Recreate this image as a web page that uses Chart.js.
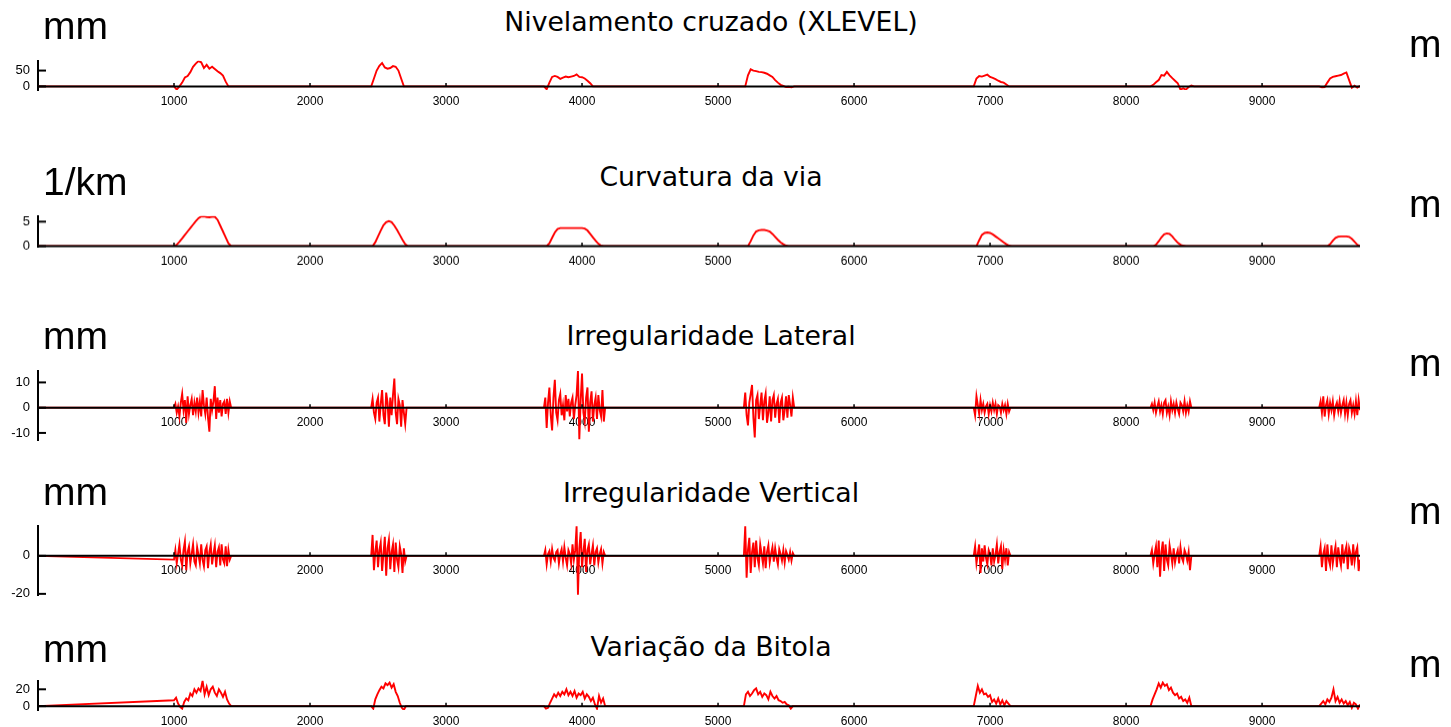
<!DOCTYPE html>
<html>
<head>
<meta charset="utf-8">
<script src="https://cdn.jsdelivr.net/npm/chart.js@4.4.1/dist/chart.umd.min.js"></script>
<style>
  html, body { margin: 0; padding: 0; background: #fff; }
  #fig { position: relative; width: 1451px; height: 727px; overflow: hidden; background: #fff; }
  #fig canvas { position: absolute; left: 0; }
  .title { position: absolute; font-family: "DejaVu Sans", sans-serif; font-size: 26.7px; line-height: 26.7px;
           white-space: nowrap; transform: translateX(-50%); color: #000; }
  .unit { position: absolute; font-family: "Liberation Sans", Arial, sans-serif; font-size: 39px; line-height: 39px;
          white-space: nowrap; color: #000; }
</style>
</head>
<body>
<div id="fig"></div>
<script>
// ---- distance axis (m) ----
const kmTicks = [1000, 2000, 3000, 4000, 5000, 6000, 7000, 8000, 9000];
const trackEnd = 9720;

// ---- Nivelamento cruzado (XLEVEL), mm, sampled every 20 m inside each curve ----
const xlevelOrigin = 0;
const xlevelStep = 20;
const xlevelStart = [1000, 2450, 3720, 5200, 6880, 8180, 9420];
const xlevelSeg1 = [0, -10, 0, 12, 28, 33, 45, 62, 72, 80, 76, 58, 68, 56, 62, 55, 48, 42, 34, 15, 0];
const xlevelSeg2 = [0, 25, 50, 65, 74, 60, 56, 58, 64, 62, 50, 25, 0];
const xlevelSeg3 = [0, -9, 12, 30, 33, 30, 24, 28, 31, 29, 31, 33, 38, 30, 29, 25, 18, 10, 0];
const xlevelSeg4 = [0, 35, 54, 50, 48, 46, 45, 43, 40, 35, 30, 20, 12, 5, 2, -2, -1, -3, 0];
const xlevelSeg5 = [0, 25, 33, 31, 34, 37, 30, 27, 23, 18, 14, 12, 6, 0];
const xlevelSeg6 = [0, 5, 13, 20, 36, 34, 46, 35, 26, 18, 10, -10, -6, -10, -2, 3, 0];
const xlevelSeg7 = [0, -3, -2, 12, 25, 30, 32, 34, 36, 40, 44, 20, -4, 2, -4, 2];
const xlevelTicks = [0, 50];

// ---- Curvatura da via, 1/km, every 20 m ----
const curvOrigin = 0;
const curvStep = 20;
const curvStart = [1000, 2460, 3740, 5220, 6900, 8200, 9480];
const curvSeg1 = [0, 0.3, 0.9, 1.6, 2.3, 3.0, 3.7, 4.4, 5.1, 5.7, 6.05, 6.1, 5.95, 5.9, 6.0, 6.0, 5.4, 4.2, 3.0, 1.8, 0.6, 0];
const curvSeg2 = [0, 0.8, 2.0, 3.2, 4.3, 4.9, 5.1, 4.9, 4.2, 3.3, 2.3, 1.3, 0.4, 0];
const curvSeg3 = [0, 0.6, 1.7, 2.8, 3.5, 3.7, 3.7, 3.7, 3.7, 3.7, 3.7, 3.7, 3.7, 3.7, 3.6, 3.2, 2.5, 1.8, 1.1, 0.5, 0.1, 0];
const curvSeg4 = [0, 1.0, 2.2, 3.0, 3.25, 3.3, 3.3, 3.2, 3.0, 2.5, 1.9, 1.3, 0.8, 0.4, 0.1, 0];
const curvSeg5 = [0, 1.2, 2.3, 2.7, 2.8, 2.7, 2.4, 2.0, 1.6, 1.2, 0.8, 0.4, 0.1, 0];
const curvSeg6 = [0, 0.3, 1.0, 1.8, 2.4, 2.6, 2.5, 2.0, 1.3, 0.7, 0.3, 0.1, 0];
const curvSeg7 = [0, 0.4, 1.1, 1.7, 1.95, 2.0, 2.0, 2.0, 1.9, 1.5, 0.9, 0.3, 0];
const curvTicks = [0, 5];

// ---- Irregularidade Lateral, mm, every 10 m ----
const latOrigin = 0;
const latStep = 10;
const latStart = [1000, 2450, 3720, 5190, 6880, 8180, 9420];
const latSeg1 = [0, 1.5, -2, 0.5, -3.5, 2, 5.5, -1, 3, -6, 4.5, -2.5, 1, 3.5, -3, 2, -1.5, 4, -2, 2.5, -3.5,
                 7, 1, -2.5, 4, -4, -9.5, 3.5, -1, 2.5, 8.5, -4.5, 4, -2, 3, -3.5, 1.5, 2.5, -2.5, 3.5, -2, 2.5, 0];
const latSeg2 = [0, 3.5, -2, -4.5, 2, 4, -5.5, 1.5, 7, -3, -6.5, 6, 2, -7.5, 4, -3, 5, 11.5, -2, -6.5, 3.5,
                 1, -7.5, 3, -2, -6.5, 0];
const latSeg3 = [0, 4, -8, 2, 8, -3, -9, 4, 11, -2, -5, 3, 5.5, -3, 1, -5, 5, -1.5, 3.5, -3.5, 2, 4, -4.5,
                 1, 5, 14.5, -12.5, 3, 13.5, -2, -5.5, 4, 8, -9.5, 2, 6.5, -5.5, 1, 4, -4.5, 5, -1, -3.5, 7, -5.5, 0];
const latSeg4 = [0, 6, -3, -7, 2, 5.5, 9, -4, -11.8, 3, 5, -4.5, 1, 6, -5, 2.5, 5.5, -6, -2, 4.5, -5.5,
                 3, 5, -4, 1.5, 3.5, -6, 2, 4, -5, -1, 4.5, -4, 5, 1, -3.5, 4, 0];
const latSeg5 = [0, -3, 4.5, 1, -2.5, 3, -1, 1.5, -2, 0.5, 1.5, -2.5, 1, -1.5, 2, -1, 1.5, -2.5, 1, 0.5,
                 -2, 1.5, -1, 1, -2.5, 1.5, -1.5, 0];
const latSeg6 = [0, 1.5, -1, 2, -2, 0.5, 2.5, -1.5, 1, -2.5, 2, 3, -2, 0.5, -3, 2.5, -1, 1.5, -2, 2, -0.5,
                 -2.5, 2, 1, -1.5, 2.5, -2, 1, -1.5, 2.5, 0];
const latSeg7 = [0, 2.5, -2, 4.5, -3.5, 1, 3, -2.5, 2, -1, 2.5, -3, 0.5, 2, -1.5, 2.5, -2, 1, 3, -2.5, 2,
                 -3, 1.5, 3, -2, 1, -2.5, 2.5, -3, 3, -1];
const latTicks = [-10, 0, 10];

// ---- Irregularidade Vertical, mm, every 10 m ----
const vertOrigin = 0;
const vertStep = 10;
const vertStart = [1000, 2450, 3720, 5190, 6880, 8180, 9420];
const vertSeg1 = [-2, 3, -4, 1, 6, -2, -5, 3, 7.5, -7.5, 2, 5, -4, 1, 6, -3, -5, 4.5, 0.5, -4, 6, -2,
                  -5.5, 3, 5, -6.5, 2, 6, -4.5, 1, 5.5, -6, 2, 4.5, -5, 6, -2, -4, 5, -5.5, 3, -2, 0];
const vertSeg2 = [0, 11, -7.5, 2, 8, -6, 3, 7, -8, 1, 10, -10.5, 4, 8.5, -7, 2, 6, -8.5, 7, -2, -6, 5, 1,
                  -9, 4, -3, 0];
const vertSeg3 = [0, 3, -4.5, 1, 2.5, -3, 3.5, -1, -2.5, 2, 3, -4, 1, 3.5, -3, 4.5, -1, -5, 3, 1, -4, 6,
                  -2, 3, 15.5, -20.5, 4, 12.5, -6, 2, 9, -8.5, 3, 6, -4.5, 1, 5.5, -5, 2, 4, -3.5, 1, 3.5, -4, 2, 0];
const vertSeg4 = [0, 15.5, -11.5, 3, 9.5, -9, 2, 7, -6, 8, -1, -5, 6, 1, -4, 5, -6.5, 2, 5.5, -3.5, 1,
                  4.5, -3, 4, -1, -4.5, 3.5, 1, -2.5, 3, -3.5, 2.5, 0.5, -2, 2, -2.5, 1.5, 0];
const vertSeg5 = [0, 5, -4, 1, 6, -9, 4, -3, 5.5, -1, -4.5, 3, 1, -5, 4, -3, 0.5, 6, -4, 2, 5, -7, 3, -2,
                  4, -5, 2, 0];
const vertSeg6 = [0, 3, -4, 1, 5, -6, 8, -11, 2, 7.5, -8, 6, -2, -5, 5.5, 1, -4, 4, -3.5, 0.5, 3, -4, 4.5,
                  -1, -3, 3, 1, -2.5, 2, -7.5, 0];
const vertSeg7 = [0, 5, -6, 1, 4, -8, 6, -2, -5, 5.5, -4, 1, 5, -6, 4.5, -1, -5, 6, -4, 2, 5, -7, 4, 1,
                  -5, 6, -3, 2, 4.5, -8, -2];
const vertTicks = [-20, 0];

// ---- Variação da Bitola, mm, every 15 m ----
const gaugeOrigin = 0;
const gaugeStep = 15;
const gaugeStart = [1000, 2450, 3720, 5190, 6880, 8180, 9420];
const gaugeSeg1 = [7, 10, 3, -1, -3, 5, 9, 7, 15, 12, 20, 16, 21, 18, 30, 14, 23, 13, 20, 23, 16, 12, 20, 16, 11, 17, 8, 3, 0];
const gaugeSeg2 = [0, -3, 8, 14, 19, 23, 21, 27, 25, 28, 22, 26, 17, 12, 4, -2, -4.5, 0];
const gaugeSeg3 = [0, -3, -2, 4, 9, 14, 11, 16, 12, 17, 14, 20, 13, 17, 12, 18, 10, 15, 13, 17, 9, 14, 11, 6, 10, 2, -3, 12, 4, 9, 0];
const gaugeSeg4 = [0, 14, 17, 12, 15, 19, 21, 14, 17, 11, 15, 13, 8, 17, 12, 9, 12, 7, 6, 4, 5, 2, 1, -3, 0, 0];
const gaugeSeg5 = [0, 12, 24, 16, 20, 14, 15, 11, 13, 5, 8, 3, 9, 2, 7, 1, 6, 3, 0];
const gaugeSeg6 = [0, 8, 14, 20, 27, 22, 28, 24, 26, 19, 22, 16, 13, 15, 9, 11, 6, 8, 4, 10, 0];
const gaugeSeg7 = [0, 3, 6, 2, 8, 5, 10, 20, 6, 11, 4, 8, 3, 6, 1, 5, -2, 4, 2, -3, 2];
const gaugeTicks = [0, 20];

// Builds the {x, y} series: the reading at the start of the track, then each curve's samples.
function buildSeries(origin, starts, step, segments) {
  const pts = [{ x: 0, y: origin }];
  segments.forEach((vals, i) => {
    vals.forEach((v, j) => pts.push({ x: starts[i] + j * step, y: v }));
  });
  return pts;
}

// Panel geometry on the page (pixels) and axis limits.
const panels = [
  { title: 'Nivelamento cruzado (XLEVEL)', unit: 'mm',
    data: buildSeries(xlevelOrigin, xlevelStart, xlevelStep, [xlevelSeg1, xlevelSeg2, xlevelSeg3, xlevelSeg4, xlevelSeg5, xlevelSeg6, xlevelSeg7]),
    ticks: xlevelTicks, yMin: -11.3, yMax: 80.8,
    top: 55, bottom: 90, titleBase: 32, unitBase: 39.3, rightBase: 57 },
  { title: 'Curvatura da via', unit: '1/km',
    data: buildSeries(curvOrigin, curvStart, curvStep, [curvSeg1, curvSeg2, curvSeg3, curvSeg4, curvSeg5, curvSeg6, curvSeg7]),
    ticks: curvTicks, yMin: -0.1, yMax: 6.15,
    top: 210, bottom: 246.5, titleBase: 187, unitBase: 195, rightBase: 217 },
  { title: 'Irregularidade Lateral', unit: 'mm',
    data: buildSeries(latOrigin, latStart, latStep, [latSeg1, latSeg2, latSeg3, latSeg4, latSeg5, latSeg6, latSeg7]),
    ticks: latTicks, yMin: -12.8, yMax: 14.6,
    top: 365, bottom: 440, titleBase: 346, unitBase: 349.3, rightBase: 376 },
  { title: 'Irregularidade Vertical', unit: 'mm',
    data: buildSeries(vertOrigin, vertStart, vertStep, [vertSeg1, vertSeg2, vertSeg3, vertSeg4, vertSeg5, vertSeg6, vertSeg7]),
    ticks: vertTicks, yMin: -20.6, yMax: 15.8,
    top: 520, bottom: 595, titleBase: 503, unitBase: 505, rightBase: 524 },
  { title: 'Variação da Bitola', unit: 'mm',
    data: buildSeries(gaugeOrigin, gaugeStart, gaugeStep, [gaugeSeg1, gaugeSeg2, gaugeSeg3, gaugeSeg4, gaugeSeg5, gaugeSeg6, gaugeSeg7]),
    ticks: gaugeTicks, yMin: -4.6, yMax: 30.1,
    top: 675, bottom: 710, titleBase: 657, unitBase: 661.7, rightBase: 677 }
];

const FIG_W = 1451, FIG_H = 727;
const PLOT_LEFT = 38, PLOT_RIGHT = 1360;
const UNIT_PX = 39;

// Axis decorations: distance labels under the zero line, the zero line itself on top
// of the trace, small distance ticks, and inward ticks on the vertical axis.
const axisDecor = {
  id: 'axisDecor',
  beforeDatasetsDraw(chart) {
    const { ctx, scales: { x, y } } = chart;
    const y0 = y.getPixelForValue(0);
    ctx.save();
    ctx.font = '12px "Liberation Sans", Arial, sans-serif';
    ctx.fillStyle = '#000';
    ctx.textAlign = 'center';
    ctx.textBaseline = 'alphabetic';
    kmTicks.forEach(v => ctx.fillText(String(v), x.getPixelForValue(v), y0 + 18.5));
    ctx.restore();
  },
  afterDatasetsDraw(chart) {
    const { ctx, chartArea, scales: { x, y } } = chart;
    const y0 = y.getPixelForValue(0);
    ctx.save();
    ctx.strokeStyle = '#000';
    ctx.lineWidth = 2;
    ctx.beginPath();
    ctx.moveTo(x.getPixelForValue(0), y0);
    ctx.lineTo(x.getPixelForValue(trackEnd), y0);
    ctx.stroke();
    ctx.lineWidth = 1.5;
    kmTicks.forEach(v => {
      const px = x.getPixelForValue(v);
      ctx.beginPath();
      ctx.moveTo(px, y0);
      ctx.lineTo(px, y0 - 3.5);
      ctx.stroke();
    });
    ctx.lineWidth = 2;
    y.ticks.forEach(t => {
      const py = y.getPixelForValue(t.value);
      ctx.beginPath();
      ctx.moveTo(chartArea.left, py);
      ctx.lineTo(chartArea.left + 8, py);
      ctx.stroke();
    });
    ctx.restore();
  }
};

Chart.defaults.font.family = '"Liberation Sans", Arial, sans-serif';

const fig = document.getElementById('fig');

panels.forEach(p => {
  const cTop = p.top - 10;
  const cBottom = Math.min(FIG_H, p.bottom + 26);
  const canvas = document.createElement('canvas');
  canvas.width = FIG_W;
  canvas.height = cBottom - cTop;
  canvas.style.width = FIG_W + 'px';
  canvas.style.height = (cBottom - cTop) + 'px';
  canvas.style.top = cTop + 'px';
  fig.appendChild(canvas);

  new Chart(canvas, {
    type: 'line',
    data: {
      datasets: [{
        data: p.data,
        borderColor: '#ff0000',
        borderWidth: 1.9,
        pointRadius: 0,
        tension: 0,
        fill: false
      }]
    },
    options: {
      responsive: false,
      animation: false,
      devicePixelRatio: 1,
      layout: { padding: { top: p.top - cTop, bottom: cBottom - p.bottom, left: 0, right: FIG_W - PLOT_RIGHT } },
      plugins: { legend: { display: false }, tooltip: { enabled: false }, title: { display: false } },
      scales: {
        x: { type: 'linear', min: 0, max: trackEnd, display: false },
        y: {
          type: 'linear', min: p.yMin, max: p.yMax,
          afterBuildTicks: s => { s.ticks = p.ticks.map(v => ({ value: v })); },
          afterFit: s => { s.width = PLOT_LEFT; },
          grid: { display: true, drawOnChartArea: false, drawTicks: false },
          border: { display: true, color: '#000', width: 2 },
          ticks: { color: '#000', padding: 8, font: { size: 13 } }
        }
      }
    },
    plugins: [axisDecor]
  });

  const t = document.createElement('div');
  t.className = 'title';
  t.textContent = p.title;
  t.style.left = '711px';
  t.style.top = (p.titleBase - 0.846 * 26.7) + 'px';
  fig.appendChild(t);

  const u = document.createElement('div');
  u.className = 'unit';
  u.textContent = p.unit;
  u.style.left = '43px';
  u.style.top = (p.unitBase - 0.846 * UNIT_PX) + 'px';
  fig.appendChild(u);

  const r = document.createElement('div');
  r.className = 'unit';
  r.textContent = 'm';
  r.style.left = '1409px';
  r.style.top = (p.rightBase - 0.846 * UNIT_PX) + 'px';
  fig.appendChild(r);
});
</script>
</body>
</html>
